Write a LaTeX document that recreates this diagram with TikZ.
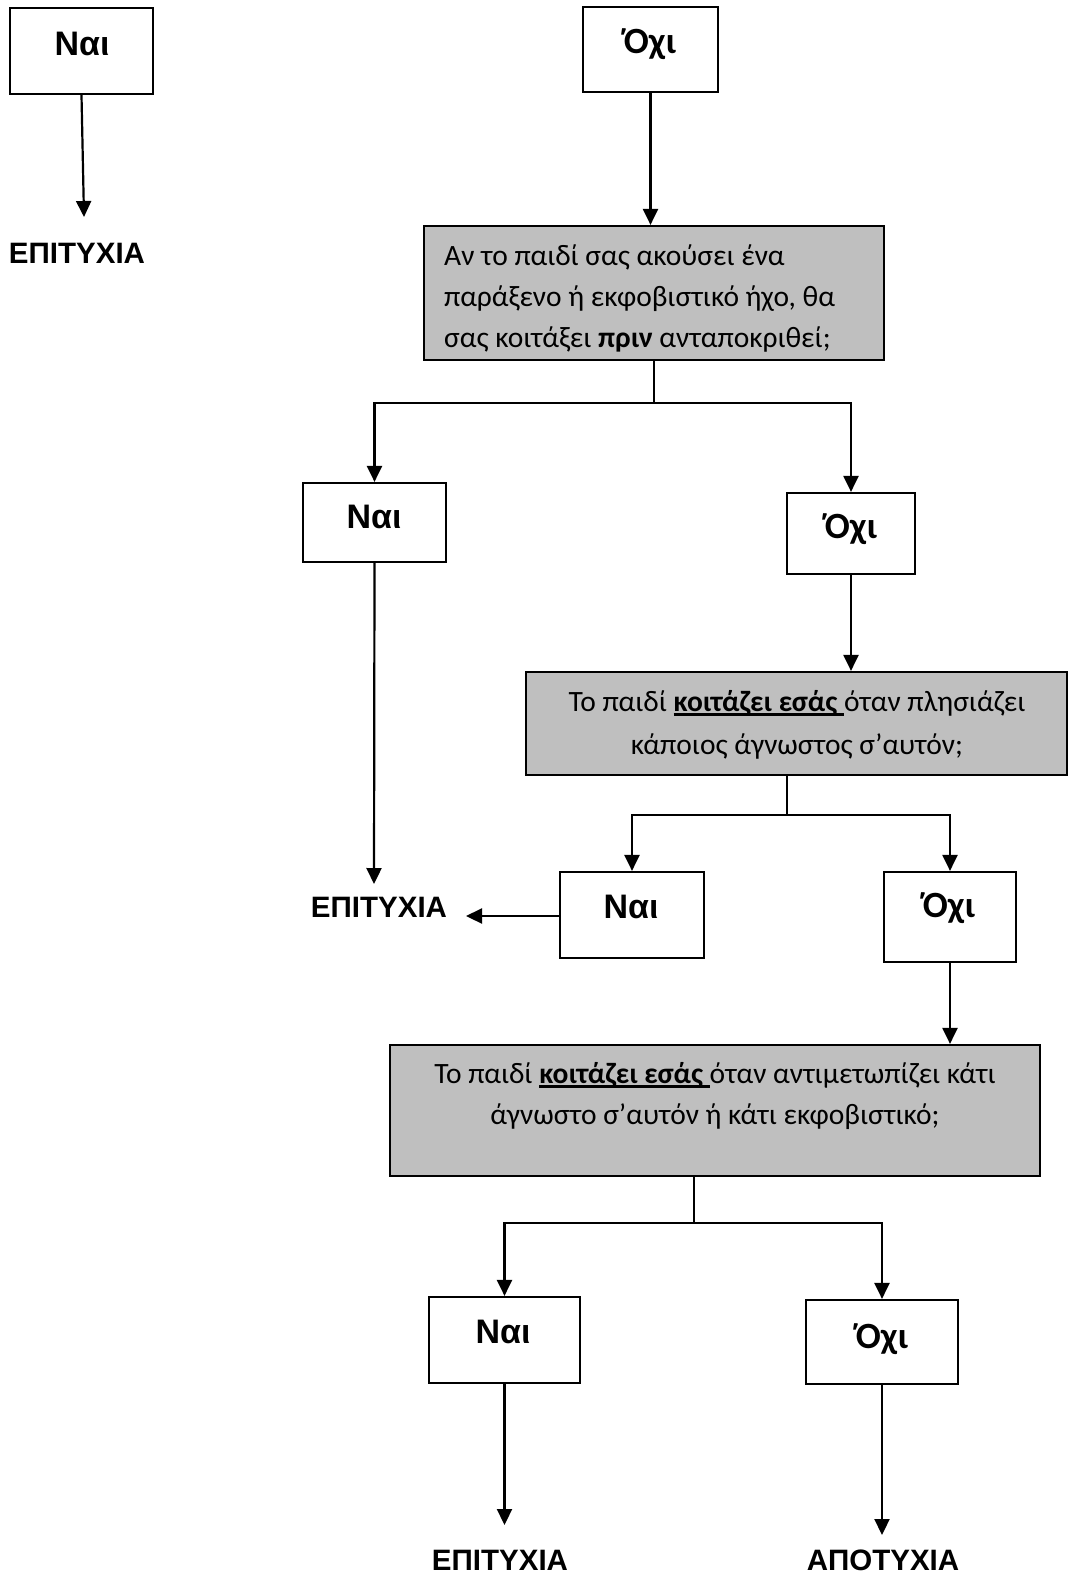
\documentclass[tikz,border=0pt]{standalone}
\usepackage{fontspec}
\setmainfont{Carlito}
\newfontfamily\labfont{Liberation Sans}
\usetikzlibrary{arrows.meta}
\definecolor{qgray}{RGB}{191,191,191}
\newcommand{\myul}[1]{\setbox0\hbox{#1}\rlap{\rule[-4.5pt]{\wd0}{2.2pt}}\box0}
\begin{document}
\begin{tikzpicture}[x=1pt,y=-1pt,
  wbox/.style={draw, line width=2.2pt, fill=white, inner sep=0pt},
  qbox/.style={draw, line width=2.2pt, fill=qgray, inner sep=0pt},
  lbl/.style={font=\labfont\bfseries\fontsize{29.5}{34}\selectfont, inner sep=0pt, anchor=base},
  nlbl/.style={font=\labfont\bfseries\fontsize{34}{40}\selectfont, inner sep=0pt, anchor=base},
  olbl/.style={font=\bfseries\fontsize{37}{44}\selectfont, inner sep=0pt, anchor=base},
  qline/.style={font=\fontsize{29.5}{41}\selectfont, inner sep=0pt},
  arr/.style={-{Triangle[width=15pt,length=16pt]}, line width=2.2pt},
  ln/.style={line width=2.2pt}
]
\useasboundingbox (0,0) rectangle (1068,1579);

% top row
\node[wbox, minimum width=143pt, minimum height=86pt] (a) at (81.5,51) {};
\node[nlbl] (at) at (82,56) {Ναι};
\node[wbox, minimum width=135pt, minimum height=85pt] (b) at (650.5,49.5) {};
\node[olbl] (bt) at (650,54) {Όχι};
\node[lbl] (s1) at (77,263) {ΕΠΙΤΥΧΙΑ};
\coordinate (s1top) at (84,217);
\draw[arr] (a.south) -- (s1top);

% Q1
\node[qbox, minimum width=460pt, minimum height=134pt] (q1) at (654,293) {};
\node[qline, anchor=base west] (q1a) at (444,265) {Αν το παιδί σας ακούσει ένα};
\node[qline, anchor=base west] (q1b) at (444,306) {παράξενο ή εκφοβιστικό ήχο, θα};
\node[qline, anchor=base west] (q1c) at (444,347) {σας κοιτάξει \textbf{πριν} ανταποκριθεί;};
\draw[arr] (b.south) -- (q1.north -| b.south);

% level 2
\node[wbox, minimum width=143pt, minimum height=79pt] (n2) at (374.5,522.5) {};
\node[nlbl] (n2t) at (374,528) {Ναι};
\node[wbox, minimum width=128pt, minimum height=81pt] (o2) at (851,533.5) {};
\node[olbl] (o2t) at (851,538) {Όχι};
\coordinate (q1j) at (654,403);
\draw[ln] (q1.south) -- (q1j);
\draw[arr] (q1j) -| (n2.north);
\draw[arr] (q1j) -| (o2.north);

\node[lbl] (s2) at (379,917) {ΕΠΙΤΥΧΙΑ};
\coordinate (s2top) at (374,884);
\draw[arr] (n2.south) -- (s2top);

% Q2
\node[qbox, minimum width=541pt, minimum height=103pt] (q2) at (796.5,723.5) {};
\node[qline] (q2a) at (797,703) {Το παιδί \myul{\textbf{κοιτάζει εσάς}\ }όταν πλησιάζει};
\node[qline] (q2b) at (797,746) {κάποιος άγνωστος σ’αυτόν;};
\draw[arr] (o2.south) -- (q2.north -| o2.south);

% level 3
\node[wbox, minimum width=144pt, minimum height=86pt] (n3) at (632,915) {};
\node[nlbl] (n3t) at (631,918) {Ναι};
\node[wbox, minimum width=132pt, minimum height=90pt] (o3) at (950,917) {};
\node[olbl] (o3t) at (949,917) {Όχι};
\coordinate (q2j) at (787,815);
\draw[ln] (q2.south -| q2j) -- (q2j);
\draw[arr] (q2j) -| (n3.north);
\draw[arr] (q2j) -| (o3.north);
\coordinate (s2right) at (466,916);
\draw[arr] (n3.west |- s2right) -- (s2right);

% Q3
\node[qbox, minimum width=650pt, minimum height=131pt] (q3) at (715,1110.5) {};
\node[qline] (q3a) at (715,1075) {Το παιδί \myul{\textbf{κοιτάζει εσάς}\ }όταν αντιμετωπίζει κάτι};
\node[qline] (q3b) at (715,1117) {άγνωστο σ’αυτόν ή κάτι εκφοβιστικό;};
\draw[arr] (o3.south) -- (q3.north -| o3.south);

% level 4
\node[wbox, minimum width=151pt, minimum height=86pt] (n4) at (504.5,1340) {};
\node[nlbl] (n4t) at (503,1343) {Ναι};
\node[wbox, minimum width=152pt, minimum height=84pt] (o4) at (882,1342) {};
\node[olbl] (o4t) at (882,1348) {Όχι};
\coordinate (q3j) at (694,1223);
\draw[ln] (q3.south -| q3j) -- (q3j);
\draw[arr] (q3j) -| (n4.north);
\draw[arr] (q3j) -| (o4.north);

\node[lbl] (s3) at (500,1570) {ΕΠΙΤΥΧΙΑ};
\node[lbl] (f3) at (883,1570) {ΑΠΟΤΥΧΙΑ};
\coordinate (s3top) at (504.5,1525);
\coordinate (f3top) at (882,1535);
\draw[arr] (n4.south) -- (s3top);
\draw[arr] (o4.south) -- (f3top);
\end{tikzpicture}
\end{document}
